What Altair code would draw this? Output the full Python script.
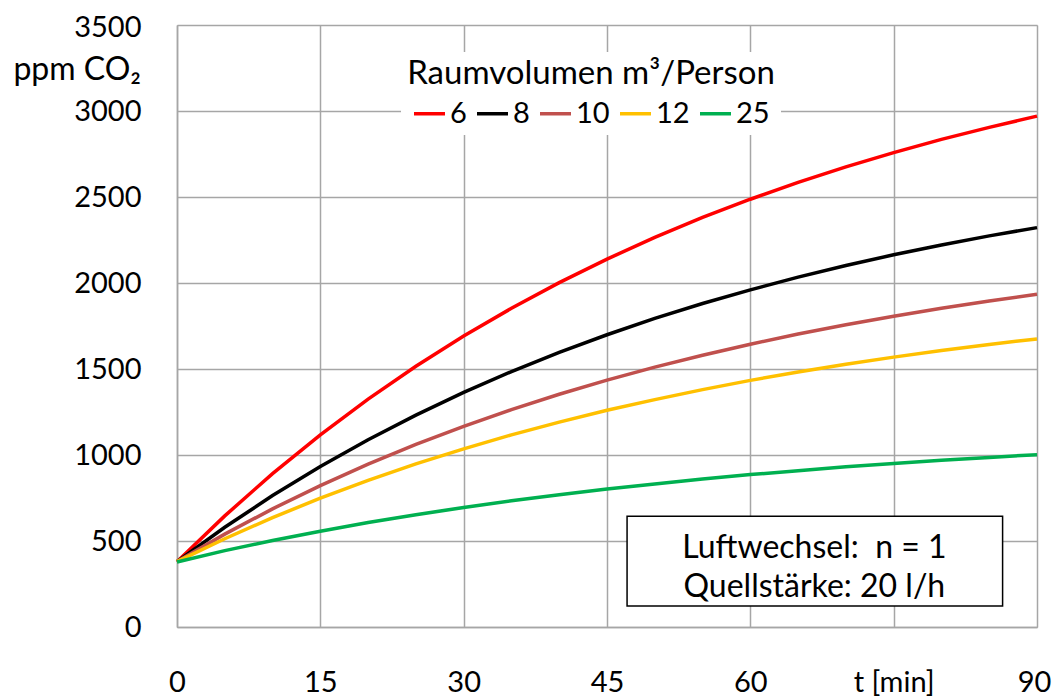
import altair as alt
import pandas as pd

t_min = [0, 5, 10, 15, 20, 25, 30, 35, 40, 45, 50, 55, 60, 65, 70, 75, 80, 85, 90]
v6 = [380, 646, 892, 1117, 1325, 1516, 1692, 1853, 2002, 2139, 2265, 2381, 2487, 2585, 2675, 2758, 2835, 2905, 2970]
v8 = [380, 580, 764, 933, 1089, 1232, 1364, 1485, 1597, 1699, 1794, 1881, 1960, 2034, 2102, 2164, 2221, 2274, 2322]
v10 = [380, 540, 687, 822, 947, 1062, 1167, 1264, 1353, 1435, 1511, 1580, 1644, 1703, 1757, 1807, 1853, 1895, 1934]
v12 = [380, 513, 636, 749, 853, 948, 1036, 1117, 1191, 1260, 1322, 1380, 1434, 1483, 1528, 1569, 1608, 1643, 1675]
v25 = [378, 444, 503, 557, 607, 653, 695, 734, 769, 802, 832, 860, 886, 909, 931, 951, 969, 986, 1002]

series_names = ["6", "8", "10", "12", "25"]
series_values = [v6, v8, v10, v12, v25]
series_colors = ["#FF0000", "#000000", "#C0504D", "#FFC000", "#00B050"]

x_ticks = [0, 15, 30, 45, 60, 75, 90]
y_ticks = [0, 500, 1000, 1500, 2000, 2500, 3000, 3500]

rows = []
for name, vals in zip(series_names, series_values):
    for t, v in zip(t_min, vals):
        rows.append({"t": t, "ppm": v, "V": name})
df = pd.DataFrame(rows)

FONT = "Lato"
FS_NUM = 29
FS_TXT = 32

x_scale = alt.Scale(domain=[0, 90], nice=False, zero=False)
y_scale = alt.Scale(domain=[0, 3500], nice=False)

lines = alt.Chart(df).mark_line(strokeWidth=3.5).encode(
    x=alt.X("t:Q", scale=x_scale,
            axis=alt.Axis(values=x_ticks, title=None, ticks=False, labelPadding=41,
                          labelExpr="datum.value == 75 ? 't [min]' : datum.label",
                          labelOffset={"condition": {"test": "datum.value == 90", "value": -3},
                                       "value": 0},
                          labelFontSize=FS_NUM, labelFont=FONT, labelColor="#000",
                          grid=True, gridColor="#a6a6a6", gridWidth=1.5,
                          domainColor="#a6a6a6", domainWidth=1.5, labelFlush=False)),
    y=alt.Y("ppm:Q", scale=y_scale,
            axis=alt.Axis(values=y_ticks, title=None, ticks=False, labelPadding=36,
                          format="d",
                          labelOffset={"condition": {"test": "datum.value == 3500", "value": 2},
                                       "value": 0},
                          labelFontSize=FS_NUM, labelFont=FONT, labelColor="#000",
                          grid=True, gridColor="#a6a6a6", gridWidth=1.5,
                          domainColor="#a6a6a6", domainWidth=1.5)),
    color=alt.Color("V:N", sort=series_names,
                    scale=alt.Scale(domain=series_names, range=series_colors),
                    legend=alt.Legend(orient="none", legendX=224, legendY=27,
                                      direction="horizontal",
                                      title="Raumvolumen m³/Person",
                                      titleAnchor="middle", titleFont=FONT,
                                      titleFontSize=33, titleFontWeight="normal",
                                      titleColor="#000", titlePadding=5, titleLimit=800,
                                      labelFont=FONT, labelFontSize=FS_NUM, labelColor="#000",
                                      symbolType="stroke", symbolStrokeWidth=3.5,
                                      symbolSize=960, labelOffset=3, columnPadding=3,
                                      fillColor="white", padding=6)),
    detail="V:N",
)

# annotation box
box_df = pd.DataFrame({"x1": [47.1], "x2": [86.4], "y1": [122], "y2": [644]})
box = alt.Chart(box_df).mark_rect(fill="white", stroke="#000", strokeWidth=1.5).encode(
    x="x1:Q", x2="x2:Q", y="y1:Q", y2="y2:Q")

ann_df = pd.DataFrame({"x": [66.7, 66.7], "y": [460, 232],
                       "txt": ["Luftwechsel:\u00a0 n = 1", "Quellstärke: 20 l/h"]})
ann = alt.Chart(ann_df).mark_text(font=FONT, fontSize=FS_TXT, color="#000",
                                  align="center", baseline="middle").encode(
    x="x:Q", y="y:Q", text="txt:N")

ylab_df = pd.DataFrame({"y": [3240], "txt": ["ppm CO₂"]})
ylab = alt.Chart(ylab_df).mark_text(font=FONT, fontSize=FS_TXT, color="#000",
                                    align="right", baseline="middle").encode(
    x=alt.value(-36), y="y:Q", text="txt:N")

chart = alt.layer(lines, box, ann, ylab).properties(
    width=860, height=602,
    padding={"left": 169, "top": 17, "right": 15, "bottom": 70},
    autosize=alt.AutoSizeParams(type="none"),
).configure_view(stroke="#222", strokeWidth=1.5).configure(background="white")

chart.save("out.html", embed_options={"renderer": "svg", "actions": False})
